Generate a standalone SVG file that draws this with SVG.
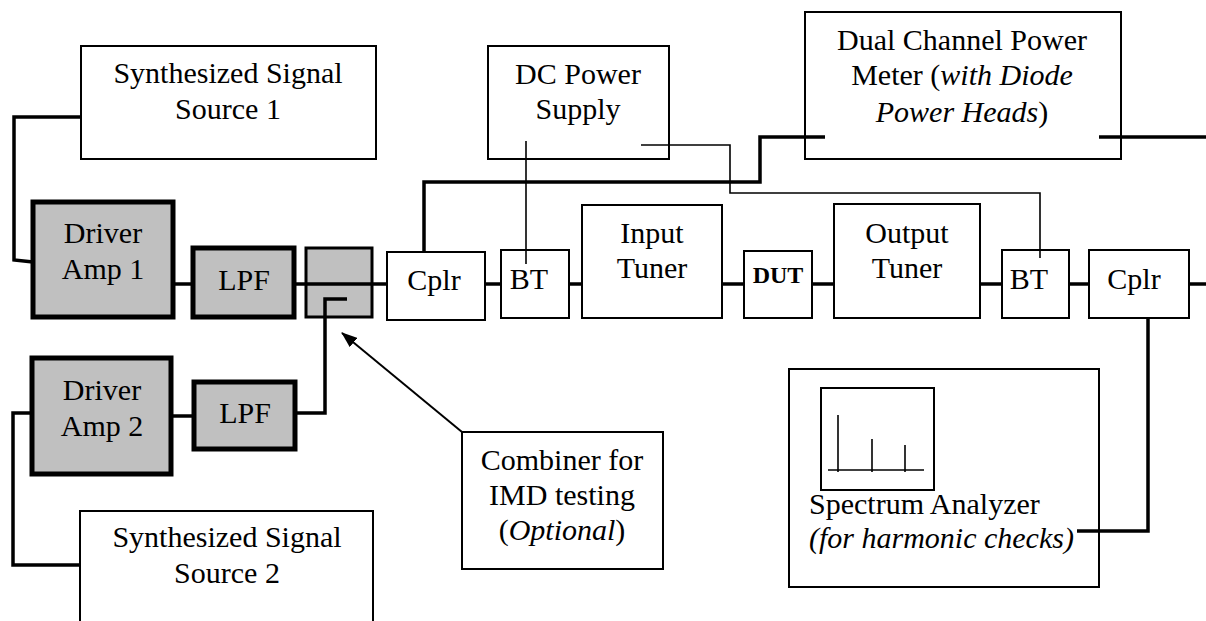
<svg xmlns="http://www.w3.org/2000/svg" width="1206" height="621" viewBox="0 0 1206 621">
<defs>
<style>
text{font-family:"Liberation Serif","Times New Roman",serif;font-size:30px;fill:#000;text-anchor:middle}
.box{fill:#fff;stroke:#000;stroke-width:2}
.gray{fill:#c0c0c0;stroke:#000;stroke-width:5}
.comb{fill:#c0c0c0;stroke:#000;stroke-width:3}
.sig{fill:none;stroke:#000;stroke-width:3.5}
.dc{fill:none;stroke:#000;stroke-width:1.6}
.it{font-style:italic}
</style>
<marker id="ah" viewBox="0 0 16 12" refX="15" refY="6" markerWidth="16" markerHeight="12" markerUnits="userSpaceOnUse" orient="auto">
<path d="M0,0 L16,6 L0,12 Z" fill="#000"/>
</marker>
</defs>
<rect width="1206" height="621" fill="#fff"/>

<g id="synth1">
<rect class="box" x="81" y="46" width="295" height="113"/>
<text x="228" y="83">Synthesized Signal</text>
<text x="228" y="119">Source 1</text>
</g>
<g id="dcps">
<rect class="box" x="488" y="46" width="181" height="113"/>
<text x="578" y="84">DC Power</text>
<text x="578" y="119">Supply</text>
</g>
<g id="powermeter">
<rect class="box" x="805" y="12" width="316" height="147"/>
<text x="962" y="50">Dual Channel Power</text>
<text x="962" y="85">Meter (<tspan class="it">with Diode</tspan></text>
<text x="962" y="122"><tspan class="it">Power Heads</tspan>)</text>
</g>
<g id="driver1">
<rect class="gray" x="33" y="202" width="140" height="115"/>
<text x="103" y="243">Driver</text>
<text x="103" y="279">Amp 1</text>
</g>
<g id="lpf1">
<rect class="gray" x="193" y="248" width="101" height="69"/>
<text x="244" y="290">LPF</text>
</g>
<g id="combiner">
<rect class="comb" x="306" y="248" width="66" height="69"/>
</g>
<g id="cplr1">
<rect class="box" x="387" y="252" width="98" height="68"/>
<text x="434" y="290">Cplr</text>
</g>
<g id="bt1">
<rect class="box" x="501" y="250" width="68" height="68"/>
<text x="529" y="289">BT</text>
</g>
<g id="inputtuner">
<rect class="box" x="582" y="205" width="140" height="113"/>
<text x="652" y="243">Input</text>
<text x="652" y="278">Tuner</text>
</g>
<g id="dut">
<rect class="box" x="744" y="251" width="68" height="67"/>
<text x="778" y="283" style="font-weight:bold;font-size:24px">DUT</text>
</g>
<g id="outputtuner">
<rect class="box" x="834" y="204" width="146" height="114"/>
<text x="907" y="243">Output</text>
<text x="907" y="278">Tuner</text>
</g>
<g id="bt2">
<rect class="box" x="1002" y="250" width="67" height="68"/>
<text x="1029" y="289">BT</text>
</g>
<g id="cplr2">
<rect class="box" x="1089" y="250" width="100" height="68"/>
<text x="1134" y="289">Cplr</text>
</g>
<g id="driver2">
<rect class="gray" x="32" y="358" width="139" height="116"/>
<text x="102" y="400">Driver</text>
<text x="102" y="436">Amp 2</text>
</g>
<g id="lpf2">
<rect class="gray" x="194" y="382" width="101" height="67"/>
<text x="245" y="423">LPF</text>
</g>
<g id="combinerlabel">
<rect class="box" x="462" y="432" width="201" height="137"/>
<text x="562" y="470">Combiner for</text>
<text x="562" y="505">IMD testing</text>
<text x="562" y="540">(<tspan class="it">Optional</tspan>)</text>
</g>
<g id="synth2">
<rect class="box" x="80" y="511" width="293" height="130"/>
<text x="227" y="547">Synthesized Signal</text>
<text x="227" y="583">Source 2</text>
</g>
<g id="spectrum">
<rect class="box" x="789" y="369" width="310" height="218"/>
<rect class="box" x="821" y="388" width="113" height="102"/>
<line class="dc" x1="828" y1="470" x2="924" y2="470"/>
<line class="dc" x1="838" y1="415" x2="838" y2="472"/>
<line class="dc" x1="872" y1="439" x2="872" y2="472"/>
<line class="dc" x1="905" y1="445" x2="905" y2="472"/>
<text x="809" y="514" style="text-anchor:start">Spectrum Analyzer</text>
<text x="809" y="548" class="it" style="text-anchor:start">(for harmonic checks)</text>
</g>

<g id="connectors">
<!-- synth 1 to driver amp 1 -->
<polyline class="sig" points="81,117 14,117 14,260 33,262"/>
<!-- main chain -->
<line class="sig" x1="173" y1="284" x2="193" y2="284"/>
<line class="sig" x1="294" y1="284" x2="387" y2="284"/>
<line class="sig" x1="485" y1="284" x2="501" y2="284"/>
<line class="sig" x1="569" y1="284" x2="582" y2="284"/>
<line class="sig" x1="722" y1="284" x2="744" y2="284"/>
<line class="sig" x1="812" y1="284" x2="834" y2="284"/>
<line class="sig" x1="980" y1="284" x2="1002" y2="284"/>
<line class="sig" x1="1069" y1="284" x2="1089" y2="284"/>
<line class="sig" x1="1189" y1="284" x2="1206" y2="284"/>
<!-- driver amp 2 branch -->
<line class="sig" x1="171" y1="416" x2="194" y2="416"/>
<polyline class="sig" points="295,413 325,413 325,299 347,299"/>
<polyline class="sig" points="32,413 13,413 13,565 80,565"/>
<!-- coupler to power meter -->
<polyline class="sig" points="424,253 424,182 760,182 760,137 825,137"/>
<line class="sig" x1="1099" y1="137" x2="1206" y2="137"/>
<!-- coupler 2 to spectrum analyzer -->
<polyline class="sig" points="1148,318 1148,531 1077,531"/>
<!-- DC bias lines -->
<line class="dc" x1="526" y1="141" x2="526" y2="264"/>
<polyline class="dc" points="641,145 730,145 730,193 1040,193 1040,258"/>
<!-- combiner callout arrow -->
<line x1="462" y1="432" x2="342" y2="333" stroke="#000" stroke-width="2" marker-end="url(#ah)"/>
</g>
</svg>
